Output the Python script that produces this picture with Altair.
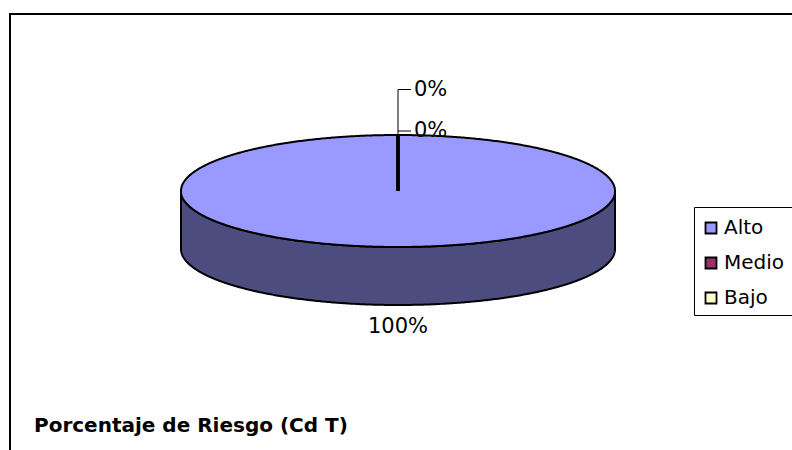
import altair as alt
import numpy as np
import pandas as pd

# Risk categories and their counts
categories = ["Alto", "Medio", "Bajo"]
values = [100, 0, 0]
colors = ["#9999FF", "#993366", "#FFFFCC"]
title_text = "Porcentaje de Riesgo (Cd T)"

W, H = 792, 450
FONT = "DejaVu Sans"

# Geometry of the tilted pie (pixel units)
cx, cy, rx, ry, depth = 398, 191, 217, 56, 58

total = sum(values)
shares = [v / total for v in values]
cum = np.concatenate([[0.0], np.cumsum(shares)])
angles = 2 * np.pi * cum  # clockwise from 12 o'clock


def shade(hex_color, f=0.5):
    r, g, b = (int(hex_color[i:i + 2], 16) for i in (1, 3, 5))
    return "#{:02x}{:02x}{:02x}".format(int(r * f), int(g * f), int(b * f))


# Sample the ellipse outline (denser near the ends)
t = np.linspace(0, np.pi, 361)
u = -np.cos(t)
xs = cx + rx * u
half = ry * np.sqrt(np.clip(1 - u ** 2, 0, 1))

top_rows, side_rows = [], []
for cat, share, col in zip(categories, shares, colors):
    if share <= 0:
        continue
    # full slice -> whole ellipse face and the whole front wall
    for x, h in zip(xs, half):
        top_rows.append({"cat": cat, "x": x, "y": cy - h, "y2": cy + h})
        side_rows.append({"cat": cat, "x": x, "y": cy + h, "y2": cy + h + depth,
                          "side": shade(col)})
top_df = pd.DataFrame(top_rows)
side_df = pd.DataFrame(side_rows)

# Slice boundary spokes
edge_df = pd.DataFrame({
    "x": [cx] * len(angles),
    "y": [cy] * len(angles),
    "x2": cx + rx * np.sin(angles),
    "y2": cy - ry * np.cos(angles),
})

# Percentage labels: non-empty slices below the pie, empty ones stacked above
label_rows, leader_rows = [], []
above = [i for i, s in enumerate(shares) if s == 0]
for i, (cat, share) in enumerate(zip(categories, shares)):
    txt = f"{round(share * 100)}%"
    if share > 0:
        mid = (angles[i] + angles[i + 1]) / 2
        lx = cx + rx * np.sin(mid)
        ly = cy - ry * np.cos(mid) + depth + 22
        label_rows.append({"x": lx, "y": ly, "text": txt, "align": "center"})
    else:
        k = above.index(i)
        ly = cy - ry - 4 - 41.5 * (len(above) - 1 - k)
        label_rows.append({"x": cx + 16, "y": ly, "text": txt, "align": "left"})
        leader_rows.append({"x": cx, "y": ly, "x2": cx + 13, "y2": ly})
if above:
    leader_rows.append({"x": cx, "y": cy - ry, "x2": cx,
                        "y2": cy - ry - 4 - 41.5 * (len(above) - 1)})
label_df = pd.DataFrame(label_rows)
leader_df = pd.DataFrame(leader_rows)

xs_ = alt.Scale(domain=[0, W], nice=False, zero=False)
ys_ = alt.Scale(domain=[0, H], nice=False, zero=False, reverse=True)
X = lambda f: alt.X(f, type="quantitative", scale=xs_, axis=None)
Y = lambda f: alt.Y(f, type="quantitative", scale=ys_, axis=None)

side = alt.Chart(side_df).mark_area(
    orient="vertical", stroke="black", strokeWidth=2, strokeJoin="round"
).encode(x=X("x"), y=Y("y"), y2="y2", fill=alt.Fill("side:N", scale=None),
         detail="cat:N")

top = alt.Chart(top_df).mark_area(
    orient="vertical", stroke="black", strokeWidth=2, strokeJoin="round"
).encode(
    x=X("x"), y=Y("y"), y2="y2",
    fill=alt.Fill("cat:N", scale=alt.Scale(domain=categories, range=colors),
                  legend=alt.Legend(
                      orient="none", legendX=694, legendY=207,
                      title=" ", titleFontSize=1, titlePadding=3,
                      symbolType="square", symbolSize=121,
                      symbolStrokeColor="black", symbolStrokeWidth=1.8,
                      labelFont=FONT, labelFontSize=20, labelColor="black",
                      labelOffset=3, rowPadding=15, padding=7,
                      fillColor="white", strokeColor="black",
                  )),
)

edges = alt.Chart(edge_df).mark_rule(color="black", strokeWidth=3).encode(
    x=X("x"), y=Y("y"), x2="x2", y2="y2")

leaders = alt.Chart(leader_df).mark_rule(color="black", strokeWidth=1).encode(
    x=X("x"), y=Y("y"), x2="x2", y2="y2")

labels_left = alt.Chart(label_df[label_df["align"] == "left"]).mark_text(
    font=FONT, fontSize=21, align="left", baseline="middle", color="black"
).encode(x=X("x"), y=Y("y"), text="text:N")

labels_center = alt.Chart(label_df[label_df["align"] == "center"]).mark_text(
    font=FONT, fontSize=21, align="center", baseline="middle", color="black"
).encode(x=X("x"), y=Y("y"), text="text:N")

title = alt.Chart(pd.DataFrame({"t": [title_text]})).mark_text(
    font=FONT, fontSize=20, fontWeight="bold", align="left", baseline="middle",
    color="black"
).encode(x=alt.value(34), y=alt.value(426), text="t:N")

frame_top = alt.Chart(pd.DataFrame({"a": [0]})).mark_rule(
    color="black", strokeWidth=2
).encode(x=alt.value(9), x2=alt.value(W), y=alt.value(14))
frame_left = alt.Chart(pd.DataFrame({"a": [0]})).mark_rule(
    color="black", strokeWidth=2
).encode(x=alt.value(10), y=alt.value(13), y2=alt.value(H))

chart = alt.layer(
    frame_top, frame_left, side, top, edges, leaders,
    labels_left, labels_center, title
).properties(
    width=W, height=H, padding=0, autosize=alt.AutoSizeParams(type="none"),
    background="white"
).configure_view(stroke=None)

chart.save("out.html", embed_options={"renderer": "svg", "actions": False})
